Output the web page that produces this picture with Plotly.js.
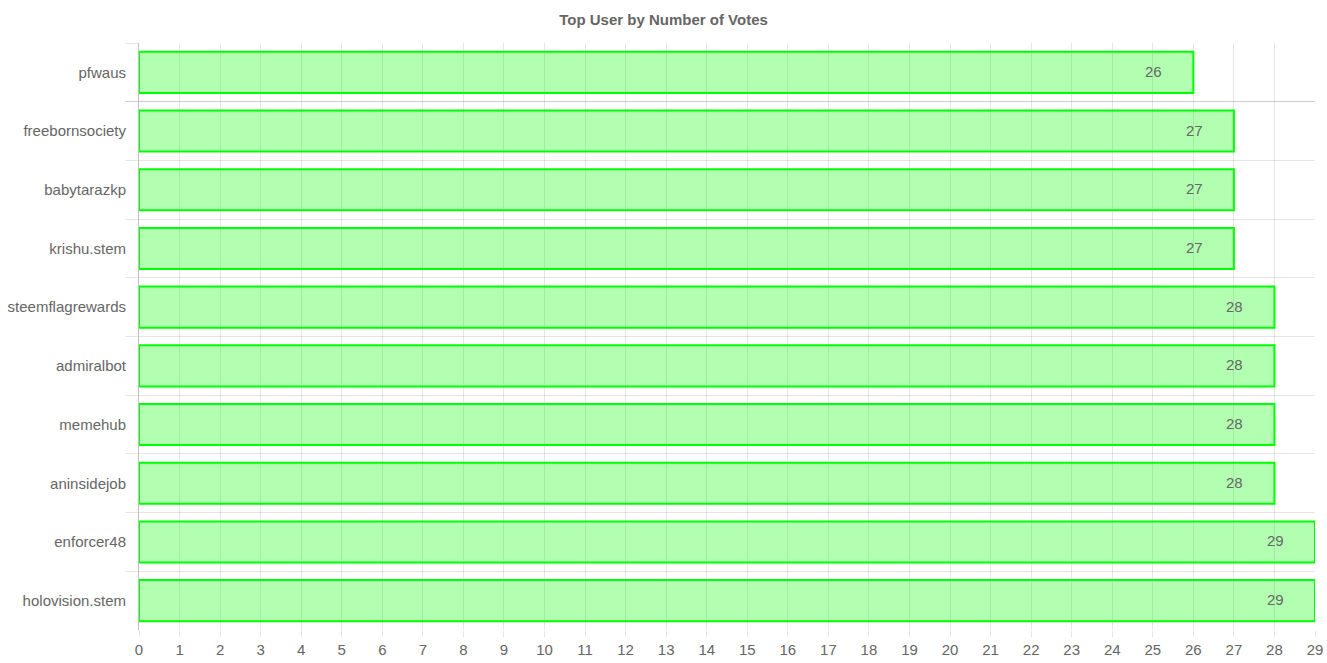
<!DOCTYPE html>
<html lang="en">
<head>
  <meta charset="UTF-8">
  <title>Top User by Number of Votes</title>
  <script src="https://cdn.plot.ly/plotly-3.0.1.min.js" charset="utf-8"></script>
  <style>
    html, body { margin: 0; padding: 0; background: #fff; }
    #chart { width: 1327px; height: 663px; }
  </style>
</head>
<body>
  <div id="chart"></div>
  <script>
    // top to bottom, as in the chart
    const users = ["pfwaus", "freebornsociety", "babytarazkp", "krishu.stem", "steemflagrewards",
                   "admiralbot", "memehub", "aninsidejob", "enforcer48", "holovision.stem"];
    const votes = [26, 27, 27, 27, 28, 28, 28, 28, 29, 29];
    const xTicks = Array.from({length: 30}, (_, i) => i);

    const font = "Arial, Liberation Sans, sans-serif";
    const grid = "rgba(0,0,0,0.1)";

    const trace = {
      type: "bar",
      orientation: "h",
      x: votes,
      y: users,
      width: 0.7,
      marker: {
        color: "rgba(0,255,0,0.3)",
        line: {color: "rgba(0,255,0,1)", width: 2}
      },
      hoverinfo: "x+y"
    };

    // value labels just inside the bar end
    const labels = users.map((u, i) => ({
      x: votes[i], y: u, text: String(votes[i]),
      xanchor: "right", yanchor: "middle", xshift: -29, yshift: 1,
      showarrow: false,
      font: {family: font, size: 15, color: "#666"}
    }));

    const layout = {
      width: 1327,
      height: 663,
      margin: {l: 139, r: 12, t: 43, b: 33},
      paper_bgcolor: "#fff",
      plot_bgcolor: "#fff",
      showlegend: false,
      title: {
        text: "<b>Top User by Number of Votes</b>",
        font: {family: font, size: 15, color: "#666"},
        x: 0.5, xref: "container", xanchor: "center",
        y: 0.97, yref: "container", yanchor: "middle"
      },
      xaxis: {
        range: [0, 29],
        tickvals: xTicks,
        showgrid: true,
        gridcolor: grid,
        zeroline: false,
        showline: false,
        ticks: "outside",
        ticklen: 6,
        tickcolor: grid,
        tickfont: {family: font, size: 15, color: "#666"},
        fixedrange: true
      },
      yaxis: {
        type: "category",
        autorange: "reversed",
        tickson: "boundaries",
        showgrid: true,
        gridcolor: grid,
        showline: true,
        linecolor: "rgba(0,0,0,0.25)",
        linewidth: 1,
        ticks: "outside",
        ticklen: 13,
        tickcolor: grid,
        ticklabelstandoff: 9,
        tickfont: {family: font, size: 15, color: "#666"},
        fixedrange: true
      },
      annotations: labels
    };

    Plotly.newPlot("chart", [trace], layout, {displayModeBar: false, responsive: false});
  </script>
</body>
</html>
